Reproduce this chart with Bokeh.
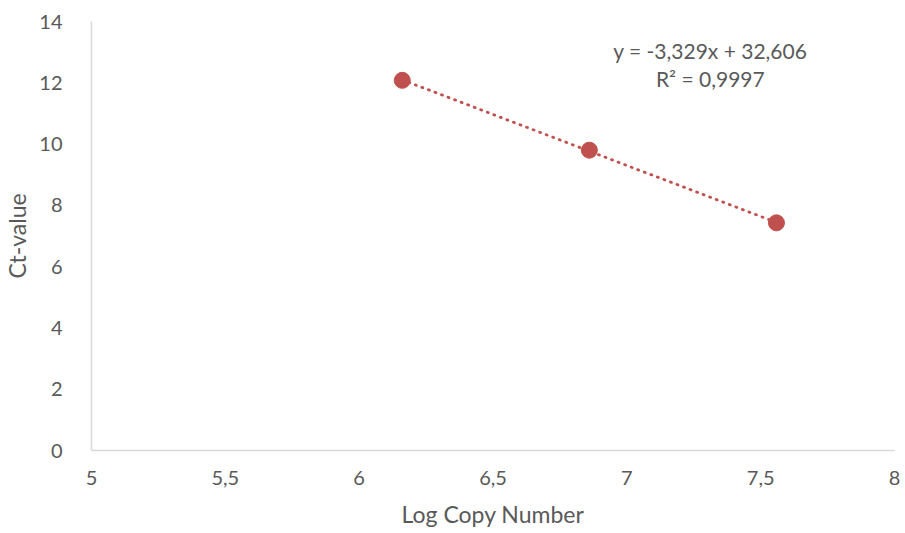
from bokeh.plotting import figure
from bokeh.models import Range1d, FixedTicker, Label
from bokeh.embed import file_html
from bokeh.resources import INLINE

log_copy = [6.161, 6.860, 7.559]
ct_value = [12.08, 9.80, 7.43]
slope = -3.329
intercept = 32.606
eq_text = "y = -3,329x + 32,606"
r2_text = "R² = 0,9997"
x_ticks = [5, 5.5, 6, 6.5, 7, 7.5, 8]
x_tick_labels = ["5", "5,5", "6", "6,5", "7", "7,5", "8"]
y_ticks = [0, 2, 4, 6, 8, 10, 12, 14]

FONT = "Lato"
TXT = "#595959"
RED = "#c0504d"

p = figure(width=905, height=533, output_backend="svg", toolbar_location=None,
           x_range=Range1d(5, 8), y_range=Range1d(0, 14),
           min_border_left=91, min_border_right=11, min_border_top=21, min_border_bottom=83)
p.outline_line_color = None
p.xgrid.visible = False
p.ygrid.visible = False

tx = [min(log_copy), max(log_copy)]
ty = [slope * v + intercept for v in tx]
p.line(tx, ty, line_color=RED, line_width=2.8, line_dash="1 6", line_cap="round")
p.scatter(log_copy, ct_value, size=16, fill_color=RED, line_color=RED)

for ax in (p.xaxis[0], p.yaxis[0]):
    ax.axis_line_color = "#d9d9d9"
    ax.axis_line_width = 1.5
    ax.major_tick_line_color = None
    ax.minor_tick_line_color = None
    ax.major_label_text_font = FONT
    ax.major_label_text_font_size = "20px"
    ax.major_label_text_color = TXT
    ax.axis_label_text_font = FONT
    ax.axis_label_text_font_size = "23px"
    ax.axis_label_text_color = TXT
    ax.axis_label_text_font_style = "normal"

p.xaxis[0].ticker = FixedTicker(ticks=x_ticks)
p.xaxis[0].major_label_overrides = {t: l for t, l in zip(x_ticks, x_tick_labels)}
p.xaxis[0].major_label_standoff = 14
p.xaxis[0].axis_label = "Log Copy Number"
p.xaxis[0].axis_label_standoff = 12
p.yaxis[0].ticker = FixedTicker(ticks=y_ticks)
p.yaxis[0].major_label_standoff = 23
p.yaxis[0].axis_label = "Ct-value"
p.yaxis[0].axis_label_standoff = 5

for txt, yv in ((eq_text, 13.05), (r2_text, 12.14)):
    p.add_layout(Label(x=7.312, y=yv, text=txt, text_align="center", text_baseline="middle",
                       text_font=FONT, text_font_size="21px", text_color=TXT))

open("out.html", "w").write(file_html(p, INLINE))
